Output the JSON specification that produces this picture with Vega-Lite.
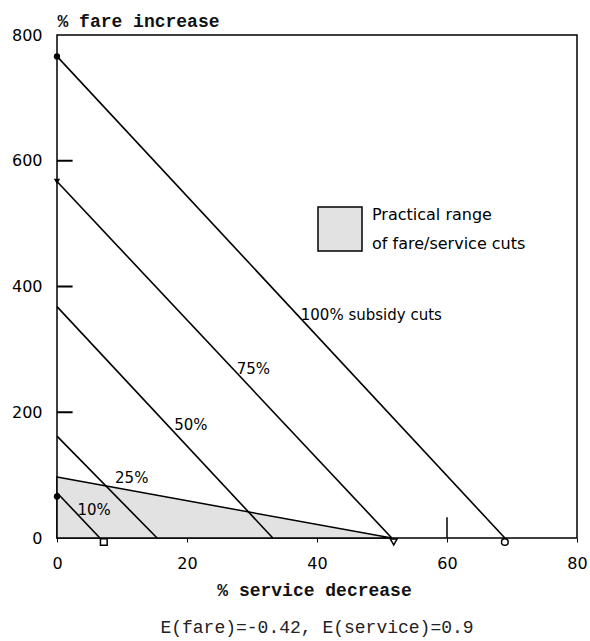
{
  "$schema": "https://vega.github.io/schema/vega-lite/v6.json",
  "width": 520,
  "height": 503,
  "autosize": {"type": "none"},
  "padding": {"left": 57, "top": 35, "right": 13, "bottom": 103},
  "background": "white",
  "config": {
    "view": {"stroke": "black", "strokeWidth": 1.5},
    "font": "DejaVu Sans"
  },
  "title": {
    "text": "E(fare)=-0.42, E(service)=0.9",
    "orient": "bottom",
    "font": "Liberation Mono",
    "fontSize": 18,
    "fontWeight": "normal",
    "color": "#222222",
    "offset": 20,
    "anchor": "middle"
  },
  "resolve": {"scale": {"shape": "independent"}},
  "layer": [
    {
      "data": {"values": [
        {"cut": 0, "fare": 97, "region": "Practical range|of fare/service cuts"},
        {"cut": 51.5, "fare": 0, "region": "Practical range|of fare/service cuts"}
      ]},
      "mark": {"type": "area", "stroke": "black", "strokeWidth": 1.5},
      "encoding": {
        "x": {
          "field": "cut", "type": "quantitative",
          "scale": {"domain": [0, 80], "nice": false, "zero": false},
          "axis": {
            "title": "% service decrease",
            "values": [0, 20, 40, 60, 80],
            "grid": false, "domain": false,
            "tickSize": 4, "tickColor": "black",
            "labelPadding": 13, "labelFlush": false,
            "labelFont": "DejaVu Sans", "labelFontSize": 16, "labelColor": "black",
            "titleFont": "Liberation Mono", "titleFontSize": 18, "titleFontWeight": "bold",
            "titleColor": "#111111", "titleX": 257, "titleY": 52, "titleBaseline": "middle"
          }
        },
        "y": {
          "field": "fare", "type": "quantitative",
          "scale": {"domain": [0, 800], "nice": false},
          "axis": {
            "title": "% fare increase",
            "values": [0, 200, 400, 600, 800],
            "grid": false, "domain": false,
            "ticks": false,
            "labelPadding": 15, "labelFlush": false,
            "labelFont": "DejaVu Sans", "labelFontSize": 16, "labelColor": "black",
            "titleFont": "Liberation Mono", "titleFontSize": 18, "titleFontWeight": "bold",
            "titleColor": "#111111", "titleAngle": 0, "titleAlign": "left",
            "titleBaseline": "middle", "titleX": 0, "titleY": -14
          }
        },
        "fill": {
          "field": "region", "type": "nominal",
          "scale": {"range": ["#e2e2e2"]},
          "legend": {
            "title": null,
            "orient": "none", "legendX": 260, "legendY": 171,
            "symbolType": "square", "symbolSize": 1936,
            "symbolStrokeColor": "black", "symbolStrokeWidth": 1.5,
            "labelFont": "DejaVu Sans", "labelFontSize": 16, "labelColor": "black",
            "labelOffset": 9, "labelLimit": 400,
            "labelExpr": "split(datum.label, '|')",
            "encode": {"labels": {"update": {"lineHeight": {"value": 29}, "dy": {"value": -14}}}}
          }
        }
      }
    },
    {
      "data": {"values": [
        {"series": "100%", "cut": 0, "fare": 766},
        {"series": "100%", "cut": 68.9, "fare": 0},
        {"series": "75%", "cut": 0, "fare": 567},
        {"series": "75%", "cut": 51.5, "fare": 0},
        {"series": "50%", "cut": 0, "fare": 368},
        {"series": "50%", "cut": 33.2, "fare": 0},
        {"series": "25%", "cut": 0, "fare": 162},
        {"series": "25%", "cut": 15.4, "fare": 0},
        {"series": "10%", "cut": 0, "fare": 72},
        {"series": "10%", "cut": 6.6, "fare": 0}
      ]},
      "mark": {"type": "line", "color": "black", "strokeWidth": 1.6},
      "encoding": {
        "x": {"field": "cut", "type": "quantitative"},
        "y": {"field": "fare", "type": "quantitative"},
        "detail": {"field": "series", "type": "nominal"}
      }
    },
    {
      "data": {"values": [
        {"cut": 60, "fare": 0, "fare2": 33}
      ]},
      "mark": {"type": "rule", "color": "black", "strokeWidth": 1.5},
      "encoding": {
        "x": {"field": "cut", "type": "quantitative"},
        "y": {"field": "fare", "type": "quantitative"},
        "y2": {"field": "fare2"}
      }
    },
    {
      "data": {"values": [
        {"fare": 200, "cut": 0, "cut2": 2.4},
        {"fare": 400, "cut": 0, "cut2": 2.4},
        {"fare": 600, "cut": 0, "cut2": 2.4}
      ]},
      "mark": {"type": "rule", "color": "black", "strokeWidth": 2},
      "encoding": {
        "y": {"field": "fare", "type": "quantitative"},
        "x": {"field": "cut", "type": "quantitative"},
        "x2": {"field": "cut2"}
      }
    },
    {
      "data": {"values": [
        {"label": "100% subsidy cuts", "cut": 37.5, "fare": 355}
      ]},
      "mark": {"type": "text", "font": "DejaVu Sans", "fontSize": 15, "color": "black", "baseline": "middle", "align": "left"},
      "encoding": {
        "x": {"field": "cut", "type": "quantitative"},
        "y": {"field": "fare", "type": "quantitative"},
        "text": {"field": "label"}
      }
    },
    {
      "data": {"values": [
        {"label": "75%", "cut": 30.2, "fare": 268},
        {"label": "50%", "cut": 20.6, "fare": 180},
        {"label": "25%", "cut": 11.5, "fare": 96},
        {"label": "10%", "cut": 5.7, "fare": 45}
      ]},
      "mark": {"type": "text", "font": "DejaVu Sans", "fontSize": 15, "color": "black", "baseline": "middle", "align": "center"},
      "encoding": {
        "x": {"field": "cut", "type": "quantitative"},
        "y": {"field": "fare", "type": "quantitative"},
        "text": {"field": "label"}
      }
    },
    {
      "data": {"values": [
        {"series": "100%", "cut": 0, "fare": 766},
        {"series": "75%", "cut": 0, "fare": 567},
        {"series": "10%", "cut": 0, "fare": 66}
      ]},
      "mark": {"type": "point", "filled": true, "color": "black", "size": 40, "opacity": 1},
      "encoding": {
        "x": {"field": "cut", "type": "quantitative"},
        "y": {"field": "fare", "type": "quantitative"},
        "shape": {
          "field": "series", "type": "nominal",
          "scale": {"domain": ["100%", "75%", "10%"], "range": ["circle", "triangle-down", "circle"]},
          "legend": null
        }
      }
    },
    {
      "data": {"values": [
        {"series": "10%", "cut": 7.2, "fare": 0},
        {"series": "75%", "cut": 51.8, "fare": 0},
        {"series": "100%", "cut": 68.9, "fare": 0}
      ]},
      "mark": {"type": "point", "filled": false, "color": "black", "size": 45, "strokeWidth": 1.5, "yOffset": 4, "opacity": 1},
      "encoding": {
        "x": {"field": "cut", "type": "quantitative"},
        "y": {"field": "fare", "type": "quantitative"},
        "shape": {
          "field": "series", "type": "nominal",
          "scale": {"domain": ["10%", "75%", "100%"], "range": ["square", "triangle-down", "circle"]},
          "legend": null
        }
      }
    }
  ]
}
